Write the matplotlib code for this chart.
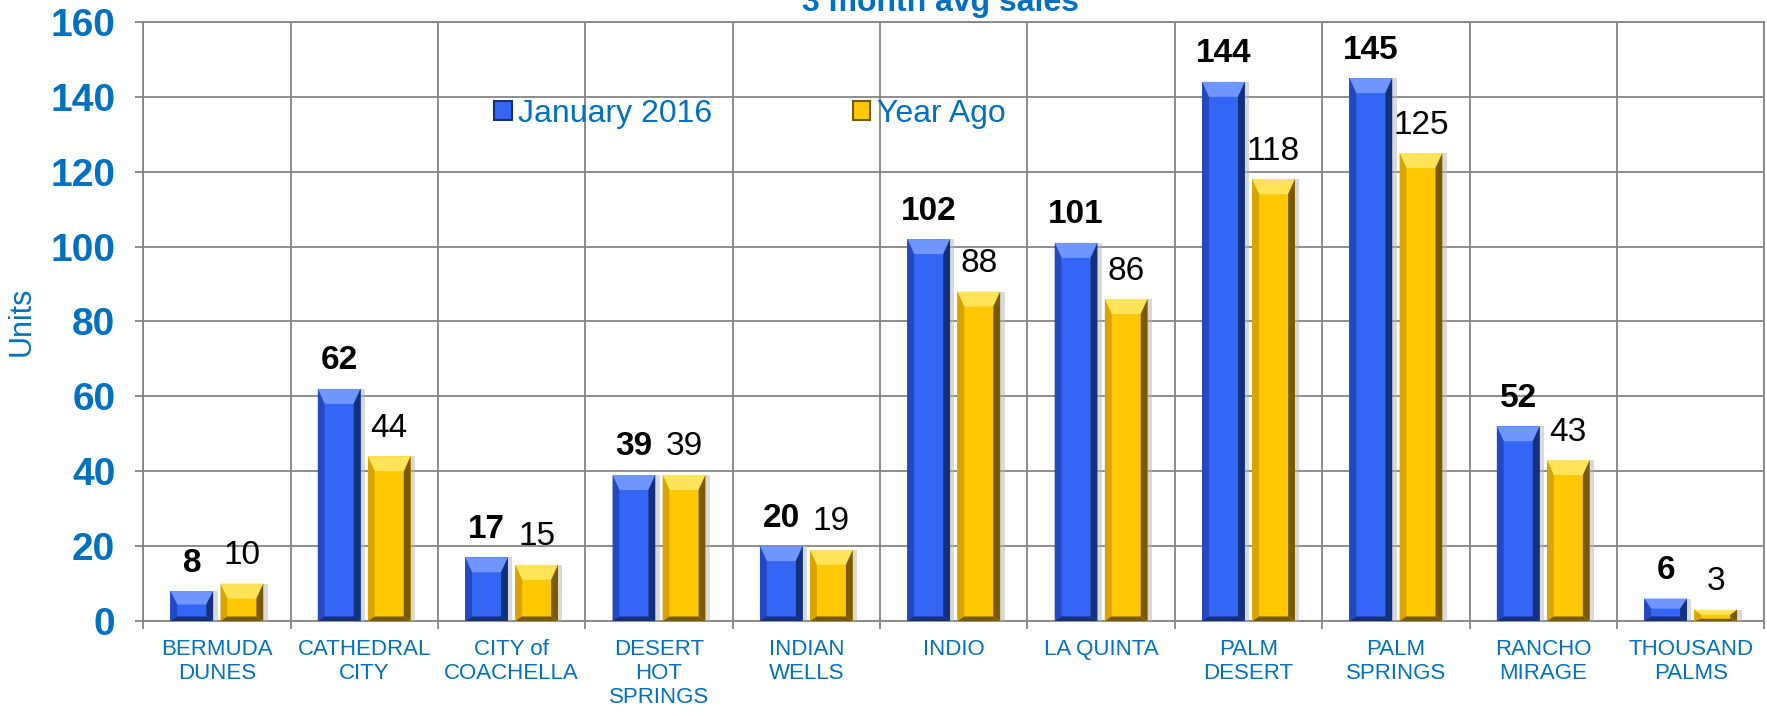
import matplotlib

matplotlib.use("Agg")

import matplotlib.pyplot as plt
import numpy as np
from matplotlib.patches import Patch, Polygon, Rectangle

plt.rcParams["font.family"] = ["Liberation Sans", "DejaVu Sans"]

categories = [
    "BERMUDA\nDUNES",
    "CATHEDRAL\nCITY",
    "CITY of\nCOACHELLA",
    "DESERT\nHOT\nSPRINGS",
    "INDIAN\nWELLS",
    "INDIO",
    "LA QUINTA",
    "PALM\nDESERT",
    "PALM\nSPRINGS",
    "RANCHO\nMIRAGE",
    "THOUSAND\nPALMS",
]
january_2016 = [8, 62, 17, 39, 20, 102, 101, 144, 145, 52, 6]
year_ago = [10, 44, 15, 39, 19, 88, 86, 118, 125, 43, 3]
series_labels = ["January 2016", "Year Ago"]
y_ticks = [0, 20, 40, 60, 80, 100, 120, 140, 160]

BLUE_TEXT = "#0070C0"
GRID = "#858585"
styles = {
    "January 2016": dict(face="#3366F5", light="#6f95ff", dark="#14307a", side="#2448c0"),
    "Year Ago": dict(face="#FFC800", light="#ffe45a", dark="#7a5a00", side="#d9a400"),
}


def bevel(axis, patch, style):
    """Paint a bevelled look on top of one bar patch."""
    x0, w, h = patch.get_x(), patch.get_width(), patch.get_height()
    x1 = x0 + w
    bx = 0.16 * w
    by = min(h * 0.45, 4.0)
    byb = min(h * 0.2, 1.2)
    shadow = Rectangle((x0 + 0.03, 0), w, h, color="#b5b5b5", alpha=0.5, zorder=2, lw=0)
    axis.add_patch(shadow)
    parts = [
        ([(x0, h), (x1, h), (x1 - bx, h - by), (x0 + bx, h - by)], style["light"]),
        ([(x1, h), (x1, 0), (x1 - bx, byb), (x1 - bx, h - by)], style["dark"]),
        ([(x0, h), (x0, 0), (x0 + bx, byb), (x0 + bx, h - by)], style["side"]),
        ([(x0, 0), (x1, 0), (x1 - bx, byb), (x0 + bx, byb)], style["dark"]),
    ]
    for points, color in parts:
        axis.add_patch(Polygon(points, closed=True, color=color, lw=0, zorder=4))


fig = plt.figure(figsize=(17.67, 7.16), dpi=100)
ax = fig.add_axes([0.081, 0.1327, 0.9175, 0.8366])

x = np.arange(len(categories))
width = 0.29
offsets = [-0.17, 0.17]
values = [january_2016, year_ago]

for series, vals, off in zip(series_labels, values, offsets):
    style = styles[series]
    bars = ax.bar(x + off, vals, width, color=style["face"], zorder=3, lw=0)
    bold = series == "January 2016"
    for patch, v in zip(bars, vals):
        bevel(ax, patch, style)
        ax.annotate(
            f"{v}",
            (patch.get_x() + patch.get_width() / 2, v),
            xytext=(0, 9),
            textcoords="offset points",
            ha="center",
            va="bottom",
            fontsize=24,
            fontweight="bold" if bold else "normal",
            color="black",
            zorder=6,
        )

ax.set_xlim(-0.5, len(categories) - 0.5)
ax.set_ylim(0, 160)
ax.set_yticks(y_ticks)
ax.set_yticklabels([str(t) for t in y_ticks], fontsize=28, fontweight="bold", color=BLUE_TEXT)
ax.set_xticks(x)
ax.set_xticklabels(categories, fontsize=16, color=BLUE_TEXT, linespacing=1.2)
ax.set_xticks(np.arange(len(categories) + 1) - 0.5, minor=True)
ax.tick_params(axis="x", which="major", length=0, pad=13)
ax.tick_params(axis="x", which="minor", length=6, width=1.3, color=GRID)
ax.tick_params(axis="y", length=6, width=1.3, color=GRID, pad=14)

ax.grid(True, axis="y", color=GRID, lw=1.3, zorder=0)
ax.grid(True, axis="x", which="minor", color=GRID, lw=1.3, zorder=0)
for side in ["left", "right", "top", "bottom"]:
    ax.spines[side].set_color(GRID)
    ax.spines[side].set_linewidth(1.3)
    ax.spines[side].set_zorder(1)

fig.text(22 / 1767, 1 - 321 / 716, "Units", rotation=90, ha="center", va="center",
         fontsize=22, color=BLUE_TEXT)
fig.text(940 / 1767, 1 - 11 / 716, "3 month avg sales", ha="center", va="baseline",
         fontsize=23, fontweight="bold", color=BLUE_TEXT)

handles = [
    Patch(facecolor=styles[s]["face"], edgecolor=styles[s]["dark"], lw=1.5) for s in series_labels
]
fig.legend(
    handles,
    series_labels,
    loc="center left",
    bbox_to_anchor=(494 / 1767, 1 - 114 / 716),
    ncol=2,
    frameon=False,
    fontsize=23,
    labelcolor=BLUE_TEXT,
    handlelength=0.55,
    handleheight=0.55,
    handletextpad=0.2,
    columnspacing=4.4,
    borderpad=0,
    borderaxespad=0,
)

fig.savefig("out.png", dpi=100)
